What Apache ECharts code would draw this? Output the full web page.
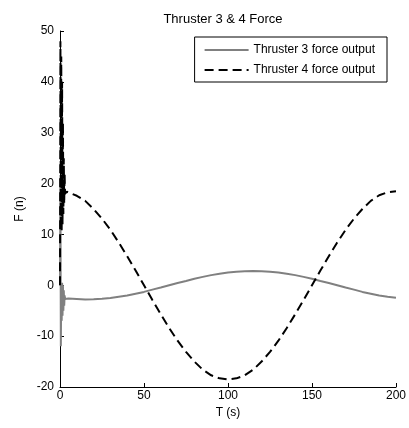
<!DOCTYPE html>
<html>
<head>
<meta charset="utf-8">
<script src="https://cdn.jsdelivr.net/npm/echarts@6/dist/echarts.min.js"></script>
<style>html,body{margin:0;padding:0;background:#fff;}#c{width:409px;height:428px;}</style>
</head>
<body>
<div id="c"></div>
<script>
var titleText = "Thruster 3 & 4 Force";
var xName = "T (s)";
var yName = "F (n)";
var seriesNames = ["Thruster 3 force output", "Thruster 4 force output"];

var times = [0,0.25,0.5,0.75,1.0,1.25,1.5,1.75,2.0,2.25,2.5,2.75,3.0,4,
  5,10,15,20,25,30,35,40,45,50,55,60,65,70,75,80,85,90,95,100,
  105,110,115,120,125,130,135,140,145,150,155,160,165,170,175,180,185,190,195,200];

var thruster3 = [0,21,-12,0,-7,0.5,-6,0,-5,-1,-4,-2,-2.7,-2.6,
  -2.6,-2.7,-2.8,-2.75,-2.65,-2.5,-2.25,-2.0,-1.65,-1.3,-0.85,-0.45,0.0,0.45,0.85,1.3,1.65,2.0,2.25,2.5,
  2.65,2.75,2.8,2.75,2.65,2.5,2.25,2.0,1.65,1.3,0.85,0.45,0.0,-0.45,-0.85,-1.3,-1.65,-2.0,-2.25,-2.45];

var thruster4 = [0,48,11,45,10.5,40,12,32,14,25,16,22,18,18.4,
  18.2,17.6,16.6,15.0,13.1,10.9,8.4,5.7,2.9,0.0,-2.9,-5.7,-8.4,-10.9,-13.1,-15.0,-16.6,-17.7,-18.3,-18.5,
  -18.3,-17.7,-16.6,-15.0,-13.1,-10.9,-8.4,-5.7,-2.9,0.0,2.9,5.7,8.4,10.9,13.1,15.0,16.6,17.7,18.3,18.5];

function pairs(ts, vs){ return ts.map(function(t,i){ return [t, vs[i]]; }); }

var font = "Liberation Sans, Arial, sans-serif";
var chart = echarts.init(document.getElementById('c'), null, {renderer:'canvas'});
chart.setOption({
  animation:false,
  backgroundColor:'#fff',
  title:{text:titleText,left:218,textAlign:'center',top:8,textStyle:{fontFamily:font,fontSize:13,fontWeight:'normal',color:'#000'}},
  grid:{left:60,right:13,top:31,bottom:41,containLabel:false},
  legend:{
    orient:'vertical',right:22,top:37,
    data:seriesNames,
    backgroundColor:'#fff',borderColor:'#000',borderWidth:1,
    padding:[7,12,6,9],itemGap:8,itemWidth:44,itemHeight:14,
    itemStyle:{opacity:0},
    textStyle:{fontFamily:font,fontSize:12,color:'#000'}
  },
  xAxis:{type:'value',min:0,max:200,interval:50,
    name:xName,nameLocation:'middle',nameGap:19,nameTextStyle:{fontFamily:font,fontSize:12,color:'#000'},
    axisLine:{onZero:false,lineStyle:{color:'#000',width:1}},
    axisTick:{inside:true,length:4,lineStyle:{color:'#000'}},
    axisLabel:{fontFamily:font,fontSize:12,color:'#000',margin:3},
    splitLine:{show:false}},
  yAxis:{type:'value',min:-20,max:50,interval:10,
    name:yName,nameLocation:'middle',nameGap:34,nameRotate:90,nameTextStyle:{fontFamily:font,fontSize:12,color:'#000'},
    axisLine:{show:true,onZero:false,lineStyle:{color:'#000',width:1}},
    axisTick:{show:true,inside:true,length:4,lineStyle:{color:'#000'}},
    axisLabel:{fontFamily:font,fontSize:12,color:'#000',margin:6},
    splitLine:{show:false}},
  series:[
    {name:seriesNames[0],type:'line',data:pairs(times,thruster3),symbol:'none',smooth:false,
     lineStyle:{color:'#808080',width:2},itemStyle:{color:'#808080'}},
    {name:seriesNames[1],type:'line',data:pairs(times,thruster4),symbol:'none',smooth:false,
     lineStyle:{color:'#000',width:2,type:[9,5]},itemStyle:{color:'#000'}}
  ]
});
</script>
</body>
</html>
